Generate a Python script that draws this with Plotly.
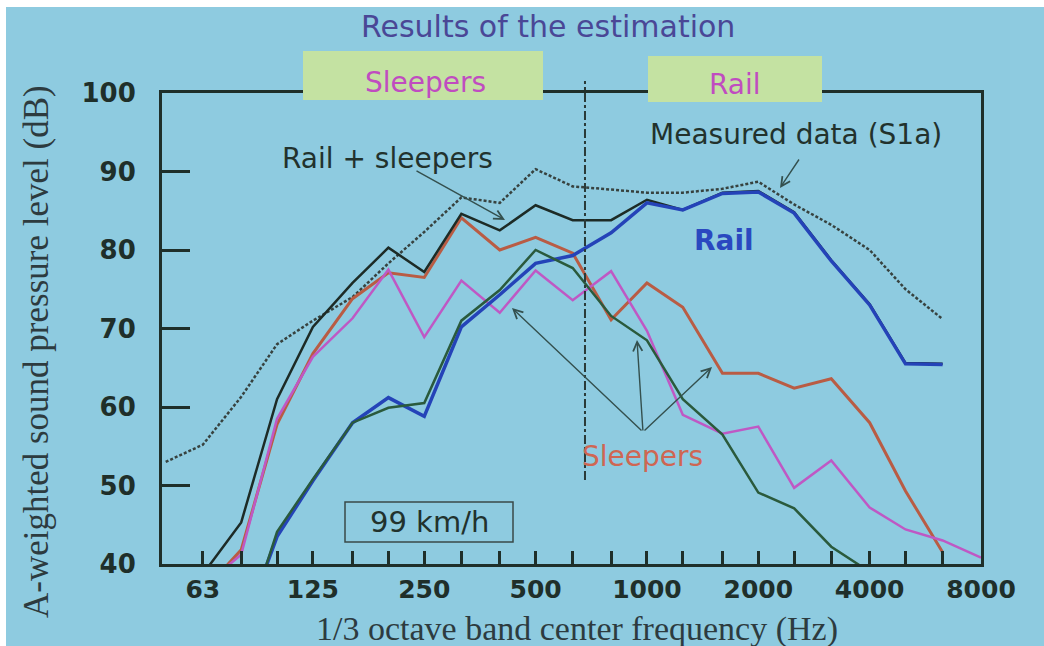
import math
import plotly.graph_objects as go

# ---- data: 1/3 octave band levels, A-weighted (dB), 99 km/h ----
freq_hz = [50, 63, 80, 100, 125, 160, 200, 250, 315, 400, 500, 630, 800,
           1000, 1250, 1600, 2000, 2500, 3150, 4000, 5000, 6300, 8000]

measured_s1a = [53.0, 55.2, 61.3, 68.0, 71.0, 74.0, 78.3, 82.3, 86.7, 86.0, 90.3, 88.1,
                87.7, 87.3, 87.3, 87.8, 88.7, 85.8, 83.2, 80.0, 75.0, 71.2, None]
rail_plus_sleepers = [None, 38.7, 45.3, 61.0, 70.2, 75.8, 80.3, 77.2, 84.6, 82.5, 85.7, 83.8,
                      83.8, 86.4, 85.1, 87.3, 87.5, 84.8, 78.7, 73.1, 65.6, 65.5, None]
rail = [None, None, 31.0, 43.5, 50.6, 58.0, 61.2, 58.8, 70.2, 74.3, 78.3, 79.3,
        82.2, 86.0, 85.1, 87.2, 87.4, 84.7, 78.6, 73.0, 65.5, 65.4, None]
sleepers_red = [None, 36.5, 41.8, 57.8, 66.8, 73.8, 77.1, 76.5, 84.1, 80.0, 81.6, 79.6,
                71.1, 75.8, 72.7, 64.3, 64.3, 62.4, 63.6, 58.0, 49.3, 41.5, None]
sleepers_magenta = [None, 37.1, 41.2, 58.5, 66.4, 71.3, 77.5, 68.9, 76.1, 72.0, 77.4, 73.6,
                    77.3, 69.7, 59.0, 56.6, 57.5, 49.7, 53.2, 47.2, 44.4, 43.0, 40.8]
sleepers_green = [None, None, 30.0, 44.1, 50.8, 58.0, 59.9, 60.5, 71.0, 74.9, 80.0, 77.7,
                  71.6, 68.5, 61.0, 56.5, 49.1, 47.1, 42.2, 39.0, None, None, None]

octave_labels = ["63", "125", "250", "500", "1000", "2000", "4000", "8000"]
tick_freqs = freq_hz[1:]
tick_text = [str(f) if str(f) in octave_labels else "" for f in tick_freqs]
y_ticks = [40, 50, 60, 70, 80, 90, 100]

divider_hz = 680          # boundary between sleeper- and rail-dominated range

# ---- page geometry ----
W, H = 1044, 646
ML, MR, MT, MB = 162, 63, 93, 82


def px(x):
    return (x - ML) / (W - ML - MR)


def py(y):
    return (H - MB - y) / (H - MT - MB)


BG = "#8ecbe0"
INK = "#1f2f2a"
BOX = "#c4e2a2"

fig = go.Figure()


def add_line(y, color, width, dash="solid", name=""):
    fig.add_trace(go.Scatter(x=freq_hz, y=y, mode="lines", name=name,
                             line=dict(color=color, width=width, dash=dash),
                             connectgaps=False, hoverinfo="skip"))


add_line(measured_s1a, "#37423f", 2.5, dash="3px,2px", name="Measured data (S1a)")
add_line(sleepers_red, "#b95c44", 3, name="Sleepers")
add_line(sleepers_magenta, "#bf58c4", 2.5, name="Sleepers")
add_line(rail_plus_sleepers, "#1d2b26", 2.5, name="Rail + sleepers")
add_line(rail, "#2443b8", 3.5, name="Rail")
add_line(sleepers_green, "#2a5a3c", 2.5, name="Sleepers")

shapes = [
    # white border of the photographed slide
    dict(type="rect", xref="paper", yref="paper", x0=px(0), x1=px(W), y0=py(0), y1=py(7),
         fillcolor="white", line=dict(width=0), layer="above"),
    dict(type="rect", xref="paper", yref="paper", x0=px(0), x1=px(6), y0=py(0), y1=py(H),
         fillcolor="white", line=dict(width=0), layer="above"),
    # header boxes
    dict(type="rect", xref="paper", yref="paper", x0=px(303), x1=px(543), y0=py(100), y1=py(51),
         fillcolor=BOX, line=dict(width=0), layer="above"),
    dict(type="rect", xref="paper", yref="paper", x0=px(648), x1=px(822), y0=py(102), y1=py(56),
         fillcolor=BOX, line=dict(width=0), layer="above"),
    # speed box
    dict(type="rect", xref="paper", yref="paper", x0=px(345), x1=px(513), y0=py(542), y1=py(502),
         fillcolor="rgba(0,0,0,0)", line=dict(width=1.5, color="#3a4a48"), layer="above"),
    # dash-dot divider
    dict(type="line", xref="x", yref="paper", x0=divider_hz, x1=divider_hz, y0=py(480), y1=py(81),
         line=dict(width=2, color="#2a3a38", dash="dashdot"), layer="above"),
]

annotations = []


def text(x, y, s, size, color, family="DejaVu Sans", weight="normal", angle=0):
    annotations.append(dict(xref="paper", yref="paper", x=px(x), y=py(y), text=s,
                            showarrow=False, xanchor="center", yanchor="middle",
                            textangle=angle,
                            font=dict(family=family, size=size, color=color, weight=weight)))


def arrow(tail, head):
    annotations.append(dict(xref="paper", yref="paper", x=px(head[0]), y=py(head[1]),
                            ax=tail[0] - head[0], ay=tail[1] - head[1], text="",
                            showarrow=True, arrowhead=5, arrowsize=1.3, arrowwidth=1.4,
                            arrowcolor="#34504e", standoff=0, startstandoff=0))


text(548, 26, "Results of the estimation", 30, "#4a4796")
text(425, 82, "Sleepers", 28, "#c04cc0")
text(735, 84, "Rail", 28, "#c04cc0")
text(387, 158, "Rail + sleepers", 28, "#22322d")
text(796, 134, "Measured data (S1a)", 28, "#22322d")
text(724, 240, "Rail", 28, "#2a48c0", weight="bold")
text(642, 456, "Sleepers", 28, "#cf6652")
text(429, 522, "99 km/h", 29, "#22322d")
text(36, 352, "A-weighted sound pressure level (dB)", 35, "#2d3b3f",
     family="Liberation Serif", angle=-90)
text(577, 629, "1/3 octave band center frequency (Hz)", 34, "#2d3b3f",
     family="Liberation Serif")

arrow((415, 170), (505, 220))
arrow((800, 158), (780, 188))
arrow((643, 432), (512, 308))
arrow((643, 432), (637, 340))
arrow((643, 432), (712, 367))

y_tick_font = dict(family="DejaVu Sans", size=26, color=INK, weight="bold")
x_tick_font = dict(family="DejaVu Sans", size=25, color=INK, weight="bold")

fig.update_layout(
    width=W, height=H, autosize=False,
    margin=dict(l=ML, r=MR, t=MT, b=MB, pad=0),
    paper_bgcolor=BG, plot_bgcolor="rgba(0,0,0,0)",
    showlegend=False,
    shapes=shapes, annotations=annotations,
    xaxis=dict(type="log", range=[math.log10(50) - 0.01, math.log10(8000)],
               tickmode="array", tickvals=tick_freqs, ticktext=tick_text,
               ticks="inside", ticklen=13, tickwidth=3, tickcolor=INK,
               showline=True, linewidth=3, linecolor=INK, mirror=True,
               showgrid=False, zeroline=False, tickfont=x_tick_font,
               ticklabelstandoff=1),
    yaxis=dict(range=[40, 100], tickmode="array", tickvals=y_ticks,
               ticks="inside", ticklen=28, tickwidth=3, tickcolor=INK,
               showline=True, linewidth=3, linecolor=INK, mirror=True,
               showgrid=False, zeroline=False, tickfont=y_tick_font,
               ticklabelstandoff=18),
)

fig.write_html("out.html")
